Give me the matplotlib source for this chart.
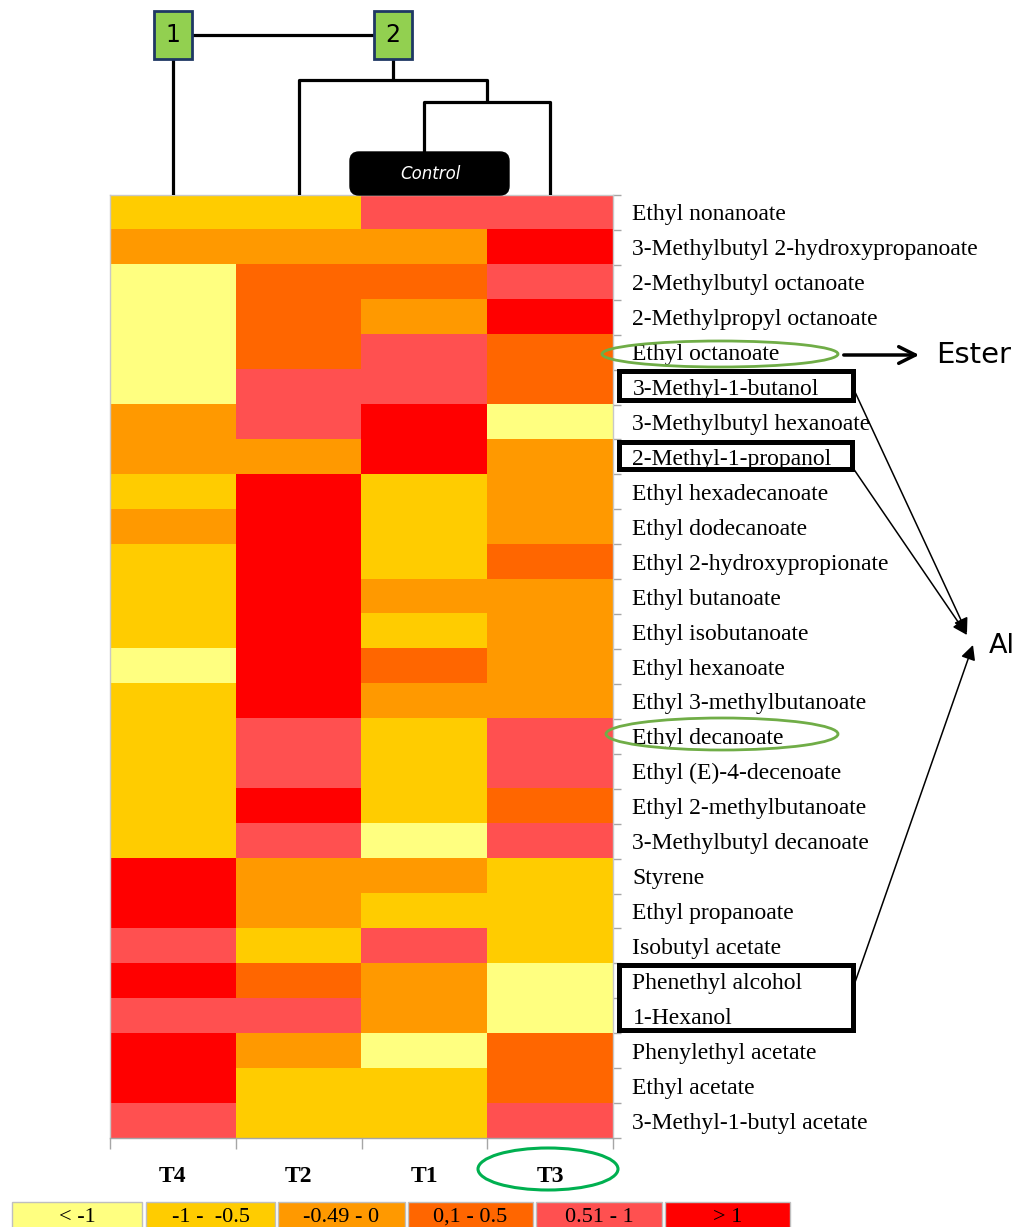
import numpy as np
import matplotlib
matplotlib.use('Agg')
from matplotlib import pyplot as plt
from matplotlib.colors import ListedColormap
from matplotlib.patches import Rectangle, Ellipse, FancyBboxPatch

plt.rcParams['font.family'] = ['Liberation Serif', 'DejaVu Serif']

# treatments (columns) in dendrogram order
treatments = ['T4', 'T2', 'T1', 'T3']

compounds = [
    'Ethyl nonanoate', '3-Methylbutyl 2-hydroxypropanoate',
    '2-Methylbutyl octanoate', '2-Methylpropyl octanoate',
    'Ethyl octanoate', '3-Methyl-1-butanol', '3-Methylbutyl hexanoate',
    '2-Methyl-1-propanol', 'Ethyl hexadecanoate', 'Ethyl dodecanoate',
    'Ethyl 2-hydroxypropionate', 'Ethyl butanoate', 'Ethyl isobutanoate',
    'Ethyl hexanoate', 'Ethyl 3-methylbutanoate', 'Ethyl decanoate',
    'Ethyl (E)-4-decenoate', 'Ethyl 2-methylbutanoate',
    '3-Methylbutyl decanoate', 'Styrene', 'Ethyl propanoate',
    'Isobutyl acetate', 'Phenethyl alcohol', '1-Hexanol',
    'Phenylethyl acetate', 'Ethyl acetate', '3-Methyl-1-butyl acetate',
]

# class of each cell: 0 "< -1" ... 5 "> 1"
levels = np.array([
    [1, 1, 4, 4],
    [2, 2, 2, 5],
    [0, 3, 3, 4],
    [0, 3, 2, 5],
    [0, 3, 4, 3],
    [0, 4, 4, 3],
    [2, 4, 5, 0],
    [2, 2, 5, 2],
    [1, 5, 1, 2],
    [2, 5, 1, 2],
    [1, 5, 1, 3],
    [1, 5, 2, 2],
    [1, 5, 1, 2],
    [0, 5, 3, 2],
    [1, 5, 2, 2],
    [1, 4, 1, 4],
    [1, 4, 1, 4],
    [1, 5, 1, 3],
    [1, 4, 0, 4],
    [5, 2, 2, 1],
    [5, 2, 1, 1],
    [4, 1, 4, 1],
    [5, 3, 2, 0],
    [4, 4, 2, 0],
    [5, 2, 0, 3],
    [5, 1, 1, 3],
    [4, 1, 1, 4],
])

level_labels = ['< -1', '-1 -  -0.5', '-0.49 - 0', '0,1 - 0.5', '0.51 - 1', '> 1']
level_colors = ['#FFFF80', '#FFCC00', '#FF9900', '#FF6600', '#FF5050', '#FF0000']

# dendrogram: merge heights (px above the heatmap)
h_t1_t3 = 93
h_t2 = 115
h_groups = 160

W, H = 1016, 1227
fig = plt.figure(figsize=(W / 100, H / 100), dpi=100)

# ---- heatmap
ax = fig.add_axes([110 / W, 1 - 1138 / H, 503 / W, 943 / H])
nrow, ncol = levels.shape
ax.imshow(levels, cmap=ListedColormap(level_colors), vmin=-0.5, vmax=5.5,
          aspect='auto', interpolation='nearest', extent=(0, ncol, nrow, 0))
grey = '#A6A6A6'
for s in ax.spines.values():
    s.set_color('#C8C8C8')
    s.set_linewidth(1)
ax.spines['bottom'].set_color(grey)

ax.yaxis.tick_right()
ax.set_yticks(np.arange(nrow) + 0.5, labels=compounds)
ax.set_yticks(np.arange(nrow + 1), minor=True)
ax.tick_params(axis='y', which='major', length=0, pad=14, labelsize=17)
ax.tick_params(axis='y', which='minor', length=6, color=grey, width=1)

ax.set_xticks(np.arange(ncol) + 0.5, labels=treatments)
ax.set_xticks(np.arange(ncol + 1), minor=True)
ax.tick_params(axis='x', which='major', length=0, pad=20, labelsize=17)
ax.tick_params(axis='x', which='minor', length=8, color=grey, width=1)
for t in ax.get_xticklabels():
    t.set_fontweight('bold')

# ---- dendrogram
dax = fig.add_axes([110 / W, 1 - 195 / H, 503 / W, 195 / H])
dax.set_xlim(0, ncol)
dax.set_ylim(0, 195)
dax.axis('off')
xs = {t: i + 0.5 for i, t in enumerate(treatments)}
lk = dict(color='black', lw=2.3, solid_capstyle='butt')
mid13 = (xs['T1'] + xs['T3']) / 2
dax.plot([xs['T1'], xs['T1'], xs['T3'], xs['T3']], [0, h_t1_t3, h_t1_t3, 0], **lk)
node2 = (xs['T2'] + mid13) / 2
dax.plot([xs['T2'], xs['T2'], mid13, mid13], [0, h_t2, h_t2, h_t1_t3], **lk)
dax.plot([node2, node2], [h_t2, h_groups], **lk)
dax.plot([xs['T4'], xs['T4']], [0, h_groups], **lk)
dax.plot([xs['T4'], node2], [h_groups, h_groups], **lk)
box = dict(boxstyle='square,pad=0.5', fc='#92D050', ec='#1F3864', lw=2)
dax.text(xs['T4'], h_groups, '1', ha='center', va='center', fontsize=17,
         family='DejaVu Sans', bbox=box)
dax.text(node2, h_groups, '2', ha='center', va='center', fontsize=17,
         family='DejaVu Sans', bbox=box)

# ---- annotations (pixel coordinates)
ov = fig.add_axes([0, 0, 1, 1], zorder=5)
ov.set_xlim(0, W)
ov.set_ylim(H, 0)
ov.axis('off')
ov.patch.set_alpha(0)

ov.add_patch(FancyBboxPatch((350, 152), 159, 43,
                            boxstyle='round,pad=0,rounding_size=9',
                            fc='black', ec='black'))
ov.text(430, 174, 'Control', color='white', style='italic', fontsize=12,
        family='DejaVu Sans', ha='center', va='center')

ov.add_patch(Ellipse((720, 354), 236, 26, fill=False, ec='#70AD47', lw=2))
ov.add_patch(Ellipse((722, 734), 232, 32, fill=False, ec='#70AD47', lw=2))
ov.add_patch(Ellipse((548, 1169), 140, 42, fill=False, ec='#00B050', lw=2.2))

for (x0, y0, w, h) in [(619, 371, 234, 29), (619, 442, 233, 27), (619, 965, 234, 65)]:
    ov.add_patch(Rectangle((x0, y0), w, h, fill=False, ec='black', lw=3.6))

ov.annotate('', xy=(922, 355), xytext=(841, 355),
            arrowprops=dict(arrowstyle='->', lw=2.5, color='black',
                            mutation_scale=30))
ov.text(936, 355, 'Ester', fontsize=21, family='DejaVu Sans', va='center')

for start, tip in [((855, 392), (967, 633)), ((853, 468), (967, 635)),
                   ((853, 988), (973, 645))]:
    ov.annotate('', xy=tip, xytext=start,
                arrowprops=dict(arrowstyle='-|>', lw=1.1, color='black',
                                mutation_scale=22, shrinkA=0, shrinkB=0))
ov.text(989, 646, 'Al', fontsize=19.5, family='DejaVu Sans', va='center')

# ---- colour key
key_x = [12, 146, 278, 408, 536, 665]
key_w = [130, 129, 127, 125, 126, 125]
for x0, w, c, lab in zip(key_x, key_w, level_colors, level_labels):
    ov.add_patch(Rectangle((x0, 1202), w, 40, fc=c, ec='#BFBFBF', lw=1))
    ov.text(x0 + w / 2, 1217, lab, ha='center', va='center', fontsize=16)

fig.savefig('out.png', dpi=100)
